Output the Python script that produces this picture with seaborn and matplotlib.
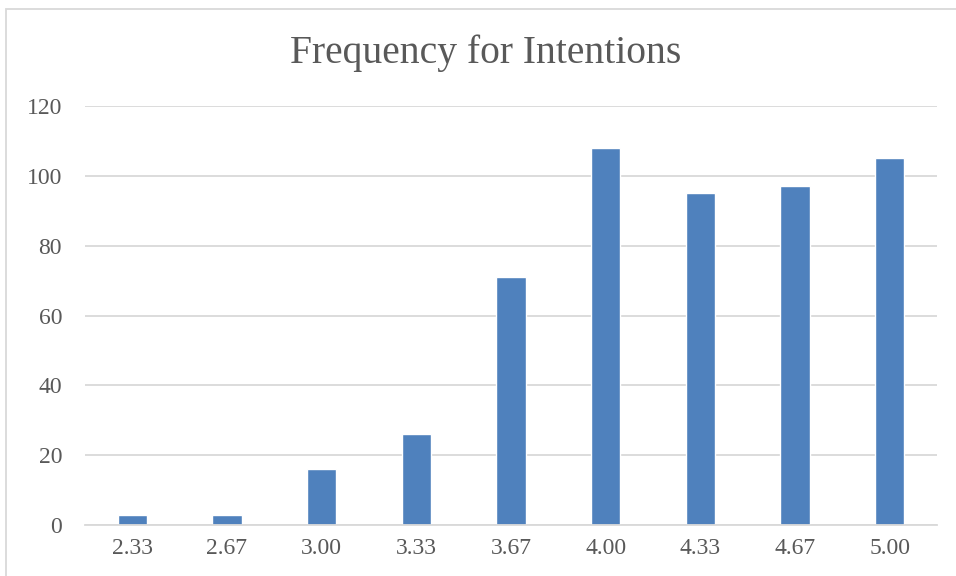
import matplotlib
matplotlib.use("Agg")
import matplotlib.pyplot as plt
import seaborn as sns
import pandas as pd
from matplotlib.patches import Rectangle

categories = ["2.33", "2.67", "3.00", "3.33", "3.67", "4.00", "4.33", "4.67", "5.00"]
frequencies = [3, 3, 16, 26, 71, 108, 95, 97, 105]
y_ticks = [0, 20, 40, 60, 80, 100, 120]
title = "Frequency for Intentions"

sns.set_theme(style="white")
plt.rcParams['font.family'] = ['Liberation Serif', 'DejaVu Serif']

df = pd.DataFrame({"score": categories, "freq": frequencies})

fig = plt.figure(figsize=(9.56, 5.76), dpi=100)
W, H = 956, 576
ax = fig.add_axes([85 / W, (H - 525) / H, (937 - 85) / W, (525 - 106) / H])

sns.barplot(data=df, x="score", y="freq", color="#4F81BD", saturation=1,
            width=0.31, ax=ax, order=categories)

ax.set_ylim(0, 120)
ax.set_xlim(-0.5, len(categories) - 0.5)
ax.set_yticks(y_ticks)
ax.set_yticklabels([str(t) for t in y_ticks])
ax.yaxis.grid(True, color="#D9D9D9", linewidth=1.3)
ax.set_axisbelow(True)
for s in ["top", "right", "left"]:
    ax.spines[s].set_visible(False)
ax.spines["bottom"].set_color("#D9D9D9")
ax.spines["bottom"].set_linewidth(1.3)
ax.set_xlabel("")
ax.set_ylabel("")
ax.tick_params(axis="both", length=0, labelsize=17, colors="#595959")
ax.tick_params(axis="y", pad=16.5)
ax.tick_params(axis="x", pad=9)

fig.text(486 / W, 1 - 53 / H, title, ha="center", va="center",
         fontsize=28.5, color="#595959")

fig.patches.append(Rectangle((6 / W, -0.1), 1.1, 1 - 9 / H + 0.1, transform=fig.transFigure,
                             fill=False, edgecolor="#D9D9D9", linewidth=1.3))

fig.savefig("out.png", dpi=100)
